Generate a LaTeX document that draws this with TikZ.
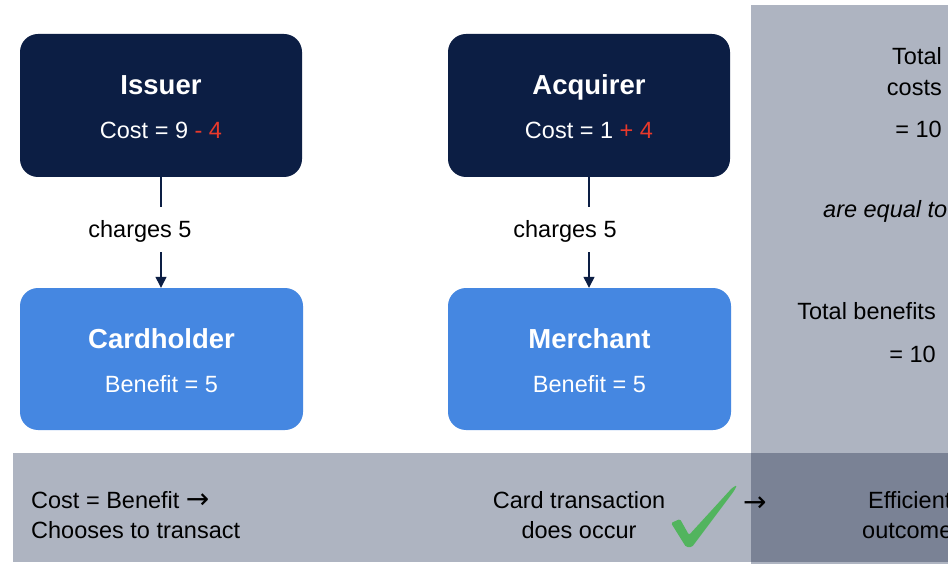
\documentclass[tikz,border=0pt]{standalone}
\usepackage{fontspec}
\setmainfont{Liberation Sans}
\newfontfamily\arrowfont{DejaVu Sans}
\usetikzlibrary{arrows.meta}
\definecolor{navy}{HTML}{0C1E44}
\definecolor{cardblue}{HTML}{4587E1}
\definecolor{panelgrey}{HTML}{AEB4C1}
\definecolor{paneldark}{HTML}{7A8295}
\definecolor{minusred}{HTML}{E8392B}
\definecolor{tickgreen}{HTML}{52B45E}
\tikzset{
  darkbox/.style={fill=navy, rounded corners=18pt, minimum width=282pt, minimum height=143pt, inner sep=0pt},
  bluebox/.style={fill=cardblue, rounded corners=18pt, minimum width=283pt, minimum height=142pt, inner sep=0pt},
  title/.style={text=white, font=\fontsize{27.5}{32}\selectfont\bfseries, anchor=base, inner sep=0pt},
  sub/.style={text=white, font=\fontsize{23.5}{28}\selectfont, anchor=base, inner sep=0pt},
  txt/.style={text=black, font=\fontsize{23.5}{28}\selectfont, anchor=base, inner sep=0pt},
  lbl/.style={text=black, font=\fontsize{23.5}{28}\selectfont, text height=17pt, text depth=0pt, inner xsep=0pt, inner ysep=14pt, anchor=base},
  conn/.style={draw=navy, line width=1.3pt},
  connarrow/.style={conn, -{Triangle[length=11pt,width=11pt]}},
  arr/.style={font=\arrowfont\fontsize{28}{30}\selectfont}
}
\begin{document}
\begin{tikzpicture}[x=1pt,y=-1pt]
\useasboundingbox (0,0) rectangle (948,564);
\clip (0,0) rectangle (948,564);
\fill[white] (0,0) rectangle (948,564);
% panels
\fill[panelgrey] (751,5) rectangle (948,564);
\fill[panelgrey] (13,453) rectangle (751,562);
\fill[paneldark] (751,453) rectangle (948,562);
% boxes
\node[darkbox] (issuer) at (161,105.5) {};
\node[darkbox] (acquirer) at (589,105.5) {};
\node[bluebox] (cardholder) at (161.5,359) {};
\node[bluebox] (merchant) at (589.5,359) {};
% box texts
\node[title] (issuerT) at (161,95) {Issuer};
\node[sub] (issuerC) at (161,139) {Cost = 9 \textcolor{minusred}{- 4}};
\node[title] (acquirerT) at (589,95) {Acquirer};
\node[sub] (acquirerC) at (589,139) {Cost = 1 \textcolor{minusred}{+ 4}};
\node[title] (cardholderT) at (161.5,348) {Cardholder};
\node[sub] (cardholderB) at (161.5,392) {Benefit = 5};
\node[title] (merchantT) at (589.5,348) {Merchant};
\node[sub] (merchantB) at (589.5,392) {Benefit = 5};
% connector labels
\node[lbl] (lab1) at (140,238) {charges 5};
\node[lbl] (lab2) at (565,238) {charges 5};
% connectors
\draw[conn] (issuer.south) -- (issuer.south |- lab1.north);
\draw[connarrow] (issuer.south |- lab1.south) -- (cardholder.north -| issuer.south);
\draw[conn] (acquirer.south) -- (acquirer.south |- lab2.north);
\draw[connarrow] (acquirer.south |- lab2.south) -- (merchant.north -| acquirer.south);
% right panel texts
\node[txt, anchor=base east] (t1) at (942,65) {Total};
\node[txt, anchor=base east] (t2) at (942,96) {costs};
\node[txt, anchor=base east] (t3) at (942,138) {= 10};
\node[txt, anchor=base west] (t4) at (823,218) {\itshape are equal to};
\node[txt, anchor=base east] (t5) at (936,319) {Total benefits};
\node[txt, anchor=base east] (t6) at (936,362) {= 10};
% bottom texts
\node[txt, anchor=base west] (b1) at (31,508) {Cost = Benefit {\arrowfont\fontsize{28}{30}\selectfont →}};
\node[txt, anchor=base west] (b2) at (31,538) {Chooses to transact};
\node[txt] (b3) at (579,508) {Card transaction};
\node[txt] (b4) at (579,538) {does occur};
\node[txt, arr, anchor=base west] (b5) at (743,511) {→};
\node[txt, anchor=base west] (b6) at (868,508) {Efficient};
\node[txt, anchor=base west] (b7) at (862,538) {outcome};
% check mark
\fill[tickgreen, rounded corners=1.5pt] (671,523) -- (680,519) -- (689,535) -- (732,488) -- (737,485) -- (734,491) -- (692,547) -- (686,547) -- cycle;
\end{tikzpicture}
\end{document}
